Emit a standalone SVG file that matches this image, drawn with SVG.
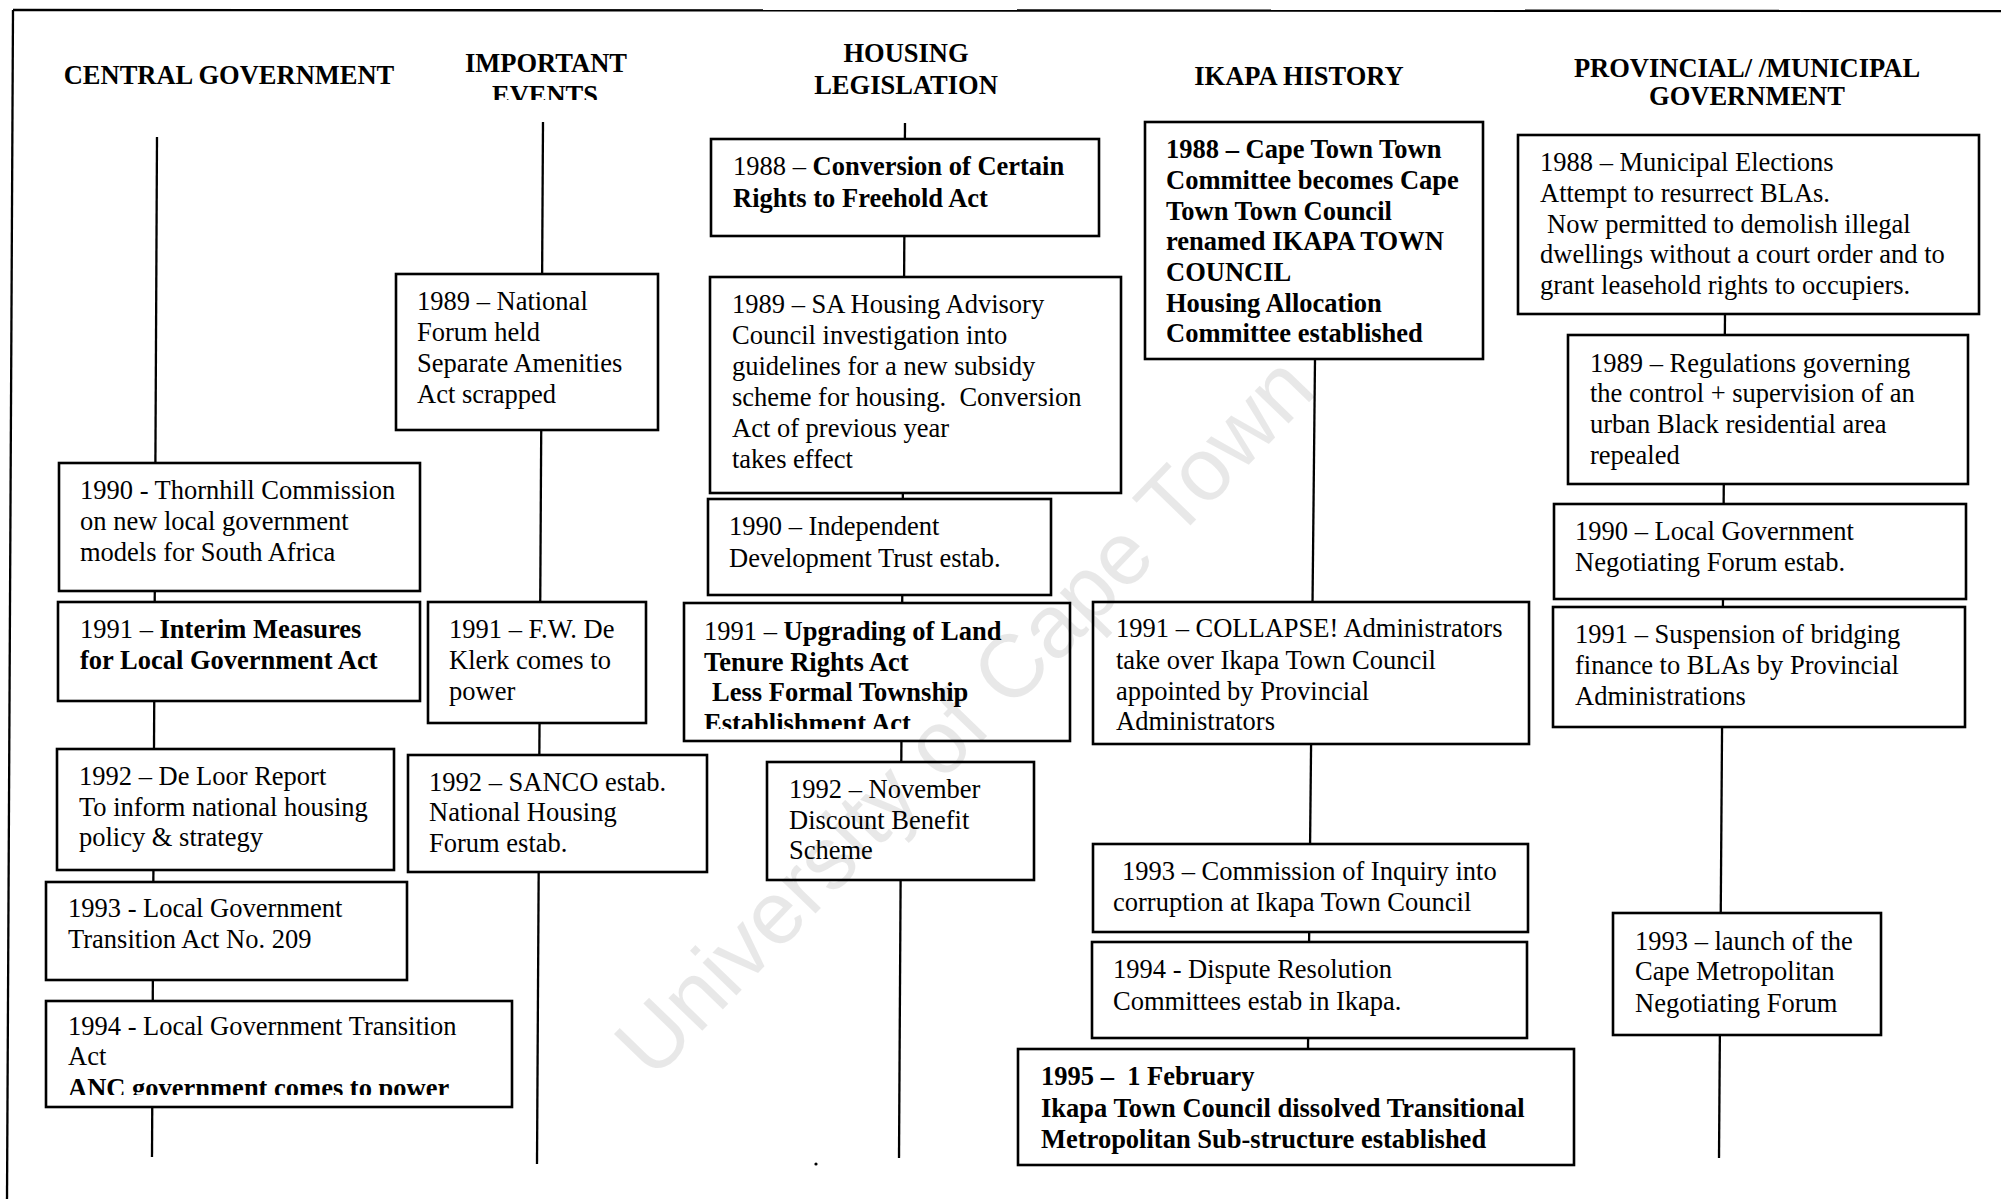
<svg xmlns="http://www.w3.org/2000/svg" width="2001" height="1199" viewBox="0 0 2001 1199">
<style>
.n{fill:#fff;stroke:#000;stroke-width:2.6}
.c{fill:none;stroke:#000;stroke-width:2.3}
.t{font-family:"Liberation Serif","Times New Roman",serif;font-size:26.5px;fill:#000}
.h{font-family:"Liberation Serif","Times New Roman",serif;font-size:26.5px;font-weight:bold;fill:#000;text-anchor:middle}
.b{font-weight:bold}
.wm{font-family:"Liberation Sans",Arial,sans-serif;font-size:89px;fill:#000;fill-opacity:0.09;text-anchor:middle}
</style>
<defs>
<clipPath id="clipEv"><rect x="400" y="0" width="300" height="100"/></clipPath>
<clipPath id="clipUp"><rect x="680" y="600" width="400" height="129"/></clipPath>
<clipPath id="clipAnc"><rect x="40" y="1000" width="480" height="95"/></clipPath>
</defs>
<rect x="0" y="0" width="2001" height="1199" fill="#fff"/>
<g id="frame" class="c">
<line x1="13" y1="10" x2="2001" y2="11"/>
<line x1="13" y1="10" x2="7" y2="1199"/>
</g>
<g id="headings">
<text class="h" x="229" y="84">CENTRAL GOVERNMENT</text>
<text class="h" x="546" y="72">IMPORTANT</text>
<text class="h" x="545" y="104" clip-path="url(#clipEv)">EVENTS</text>
<text class="h" x="906" y="62">HOUSING</text>
<text class="h" x="906" y="94">LEGISLATION</text>
<text class="h" x="1299" y="85">IKAPA HISTORY</text>
<text class="h" x="1747" y="77">PROVINCIAL/ /MUNICIPAL</text>
<text class="h" x="1747" y="105">GOVERNMENT</text>
</g>
<g id="connectors" class="c">
<line x1="157" y1="137" x2="152" y2="1157"/>
<line x1="543" y1="122" x2="537" y2="1164"/>
<line x1="905" y1="123" x2="899" y2="1158"/>
<line x1="1315" y1="359" x2="1308" y2="1049"/>
<line x1="1725" y1="314" x2="1719" y2="1158"/>
</g>
<circle cx="816" cy="1164" r="1.6" fill="#000"/>
<!-- Central Government -->
<g id="cg1990"><rect class="n" x="59" y="463" width="361" height="128"/>
<text class="t"><tspan x="80" y="499">1990 - Thornhill Commission</tspan><tspan x="80" y="530">on new local government</tspan><tspan x="80" y="561">models for South Africa</tspan></text></g>
<g id="cg1991"><rect class="n" x="58" y="602" width="362" height="99"/>
<text class="t"><tspan x="80" y="638">1991 – <tspan class="b">Interim Measures</tspan></tspan><tspan class="b" x="80" y="669">for Local Government Act</tspan></text></g>
<g id="cg1992"><rect class="n" x="57" y="749" width="337" height="121"/>
<text class="t"><tspan x="79" y="785">1992 – De Loor Report</tspan><tspan x="79" y="816">To inform national housing</tspan><tspan x="79" y="846">policy &amp; strategy</tspan></text></g>
<g id="cg1993"><rect class="n" x="46" y="882" width="361" height="98"/>
<text class="t"><tspan x="68" y="917">1993 - Local Government</tspan><tspan x="68" y="948">Transition Act No. 209</tspan></text></g>
<g id="cg1994"><rect class="n" x="46" y="1001" width="466" height="106"/>
<text class="t"><tspan x="68" y="1035">1994 - Local Government Transition</tspan><tspan x="68" y="1065">Act</tspan></text>
<text class="t b" x="68" y="1097" clip-path="url(#clipAnc)">ANC government comes to power</text></g>
<!-- Important Events -->
<g id="ie1989"><rect class="n" x="396" y="274" width="262" height="156"/>
<text class="t"><tspan x="417" y="310">1989 – National</tspan><tspan x="417" y="341">Forum held</tspan><tspan x="417" y="372">Separate Amenities</tspan><tspan x="417" y="403">Act scrapped</tspan></text></g>
<g id="ie1991"><rect class="n" x="428" y="602" width="218" height="121"/>
<text class="t"><tspan x="449" y="638">1991 – F.W. De</tspan><tspan x="449" y="669">Klerk comes to</tspan><tspan x="449" y="700">power</tspan></text></g>
<g id="ie1992"><rect class="n" x="408" y="755" width="299" height="117"/>
<text class="t"><tspan x="429" y="791">1992 – SANCO estab.</tspan><tspan x="429" y="821">National Housing</tspan><tspan x="429" y="852">Forum estab.</tspan></text></g>
<!-- Housing Legislation -->
<g id="hl1988"><rect class="n" x="711" y="139" width="388" height="97"/>
<text class="t"><tspan x="733" y="175">1988 – <tspan class="b">Conversion of Certain</tspan></tspan><tspan class="b" x="733" y="207">Rights to Freehold Act</tspan></text></g>
<g id="hl1989"><rect class="n" x="710" y="277" width="411" height="216"/>
<text class="t"><tspan x="732" y="313">1989 – SA Housing Advisory</tspan><tspan x="732" y="344">Council investigation into</tspan><tspan x="732" y="375">guidelines for a new subsidy</tspan><tspan x="732" y="406">scheme for housing.&#160; Conversion</tspan><tspan x="732" y="437">Act of previous year</tspan><tspan x="732" y="468">takes effect</tspan></text></g>
<g id="hl1990"><rect class="n" x="708" y="499" width="343" height="96"/>
<text class="t"><tspan x="729" y="535">1990 – Independent</tspan><tspan x="729" y="567">Development Trust estab.</tspan></text></g>
<g id="hl1991"><rect class="n" x="684" y="603" width="386" height="138"/>
<text class="t"><tspan x="704" y="640">1991 – <tspan class="b">Upgrading of Land</tspan></tspan><tspan class="b" x="704" y="671">Tenure Rights Act</tspan><tspan class="b" x="712" y="701">Less Formal Township</tspan></text>
<text class="t b" x="704" y="732" clip-path="url(#clipUp)">Establishment Act</text></g>
<g id="hl1992"><rect class="n" x="767" y="762" width="267" height="118"/>
<text class="t"><tspan x="789" y="798">1992 – November</tspan><tspan x="789" y="829">Discount Benefit</tspan><tspan x="789" y="859">Scheme</tspan></text></g>
<!-- Ikapa History -->
<g id="ik1988"><rect class="n" x="1145" y="122" width="338" height="237"/>
<text class="t b"><tspan x="1166" y="158">1988 – Cape Town Town</tspan><tspan x="1166" y="189">Committee becomes Cape</tspan><tspan x="1166" y="220">Town Town Council</tspan><tspan x="1166" y="250">renamed IKAPA TOWN</tspan><tspan x="1166" y="281">COUNCIL</tspan><tspan x="1166" y="312">Housing Allocation</tspan><tspan x="1166" y="342">Committee established</tspan></text></g>
<g id="ik1991"><rect class="n" x="1093" y="602" width="436" height="142"/>
<text class="t"><tspan x="1116" y="637">1991 – COLLAPSE! Administrators</tspan><tspan x="1116" y="669">take over Ikapa Town Council</tspan><tspan x="1116" y="700">appointed by Provincial</tspan><tspan x="1116" y="730">Administrators</tspan></text></g>
<g id="ik1993"><rect class="n" x="1093" y="844" width="435" height="88"/>
<text class="t"><tspan x="1122" y="880">1993 – Commission of Inquiry into</tspan><tspan x="1113" y="911">corruption at Ikapa Town Council</tspan></text></g>
<g id="ik1994"><rect class="n" x="1092" y="942" width="435" height="96"/>
<text class="t"><tspan x="1113" y="978">1994 - Dispute Resolution</tspan><tspan x="1113" y="1010">Committees estab in Ikapa.</tspan></text></g>
<g id="ik1995"><rect class="n" x="1018" y="1049" width="556" height="116"/>
<text class="t b"><tspan x="1041" y="1085">1995 –&#160; 1 February</tspan><tspan x="1041" y="1117">Ikapa Town Council dissolved Transitional</tspan><tspan x="1041" y="1148">Metropolitan Sub-structure established</tspan></text></g>
<!-- Provincial / Municipal -->
<g id="pm1988"><rect class="n" x="1518" y="135" width="461" height="179"/>
<text class="t"><tspan x="1540" y="171">1988 – Municipal Elections</tspan><tspan x="1540" y="202">Attempt to resurrect BLAs.</tspan><tspan x="1547" y="233">Now permitted to demolish illegal</tspan><tspan x="1540" y="263">dwellings without a court order and to</tspan><tspan x="1540" y="294">grant leasehold rights to occupiers.</tspan></text></g>
<g id="pm1989"><rect class="n" x="1568" y="335" width="400" height="149"/>
<text class="t"><tspan x="1590" y="372">1989 – Regulations governing</tspan><tspan x="1590" y="402">the control + supervision of an</tspan><tspan x="1590" y="433">urban Black residential area</tspan><tspan x="1590" y="464">repealed</tspan></text></g>
<g id="pm1990"><rect class="n" x="1554" y="504" width="412" height="95"/>
<text class="t"><tspan x="1575" y="540">1990 – Local Government</tspan><tspan x="1575" y="571">Negotiating Forum estab.</tspan></text></g>
<g id="pm1991"><rect class="n" x="1553" y="607" width="412" height="120"/>
<text class="t"><tspan x="1575" y="643">1991 – Suspension of bridging</tspan><tspan x="1575" y="674">finance to BLAs by Provincial</tspan><tspan x="1575" y="705">Administrations</tspan></text></g>
<g id="pm1993"><rect class="n" x="1613" y="913" width="268" height="122"/>
<text class="t"><tspan x="1635" y="950">1993 – launch of the</tspan><tspan x="1635" y="980">Cape Metropolitan</tspan><tspan x="1635" y="1012">Negotiating Forum</tspan></text></g>
<g id="watermark"><text class="wm" x="986" y="737" transform="rotate(-46 986 737)">University of Cape Town</text></g>
</svg>
